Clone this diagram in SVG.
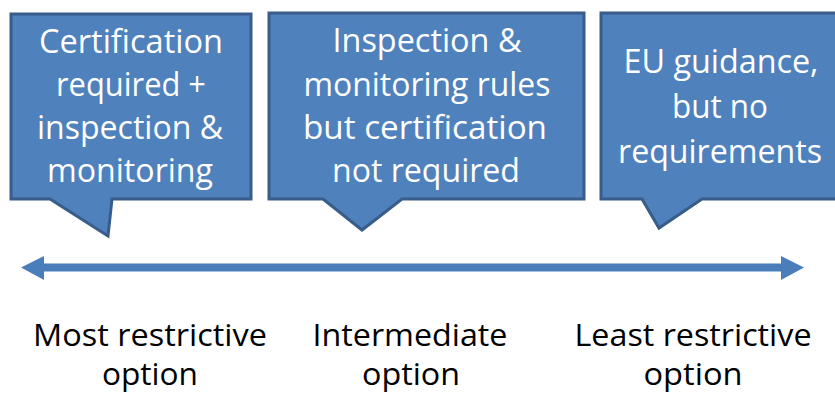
<svg xmlns="http://www.w3.org/2000/svg" width="835" height="394" viewBox="0 0 835 394">
<style>
.box{fill:#4f81bd;stroke:#385d8a;stroke-width:3;stroke-linejoin:miter}
.bt{font-family:"Open Sans","Liberation Sans",sans-serif;font-size:33px;fill:#ffffff;text-anchor:middle}
.lt{font-family:"Open Sans","Liberation Sans",sans-serif;font-size:31px;fill:#000000;text-anchor:middle}
.arr{fill:#4a7ebb}
</style>
<rect width="835" height="394" fill="#ffffff"/>
<g id="node-certification">
<path class="box" d="M11,14 H251 V199 H112 L108,236 L50,199 H11 Z"/>
<text class="bt" x="131" y="53" textLength="184" lengthAdjust="spacingAndGlyphs">Certification</text>
<text class="bt" x="131" y="96" textLength="150" lengthAdjust="spacingAndGlyphs">required +</text>
<text class="bt" x="130" y="139" textLength="186" lengthAdjust="spacingAndGlyphs">inspection &amp;</text>
<text class="bt" x="130" y="182" textLength="166" lengthAdjust="spacingAndGlyphs">monitoring</text>
</g>
<g id="node-inspection">
<path class="box" d="M269,13 H584 V199 H402 L362,230 L323,199 H269 Z"/>
<text class="bt" x="427" y="52" textLength="189" lengthAdjust="spacingAndGlyphs">Inspection &amp;</text>
<text class="bt" x="427" y="96" textLength="247" lengthAdjust="spacingAndGlyphs">monitoring rules</text>
<text class="bt" x="425" y="139" textLength="244" lengthAdjust="spacingAndGlyphs">but certification</text>
<text class="bt" x="426" y="182" textLength="188" lengthAdjust="spacingAndGlyphs">not required</text>
</g>
<g id="node-guidance">
<path class="box" d="M601,13 H840 V199 H702 L659,228 L642,199 H601 Z"/>
<text class="bt" x="721" y="73" textLength="195" lengthAdjust="spacingAndGlyphs">EU guidance,</text>
<text class="bt" x="720" y="118" textLength="96" lengthAdjust="spacingAndGlyphs">but no</text>
<text class="bt" x="720" y="163" textLength="204" lengthAdjust="spacingAndGlyphs">requirements</text>
</g>
<g id="connectors">
<rect class="arr" x="43" y="263.5" width="739" height="8"/>
<polygon class="arr" points="21,267.5 44,256 44,280"/>
<polygon class="arr" points="804,267.5 781,256 781,280"/>
</g>
<g id="node-most">
<text class="lt" x="150" y="346" textLength="234" lengthAdjust="spacingAndGlyphs">Most restrictive</text>
<text class="lt" x="150" y="385" textLength="96" lengthAdjust="spacingAndGlyphs">option</text>
</g>
<g id="node-intermediate">
<text class="lt" x="410" y="346" textLength="195" lengthAdjust="spacingAndGlyphs">Intermediate</text>
<text class="lt" x="411" y="385" textLength="98" lengthAdjust="spacingAndGlyphs">option</text>
</g>
<g id="node-least">
<text class="lt" x="693" y="346" textLength="237" lengthAdjust="spacingAndGlyphs">Least restrictive</text>
<text class="lt" x="693" y="385" textLength="99" lengthAdjust="spacingAndGlyphs">option</text>
</g>
</svg>
